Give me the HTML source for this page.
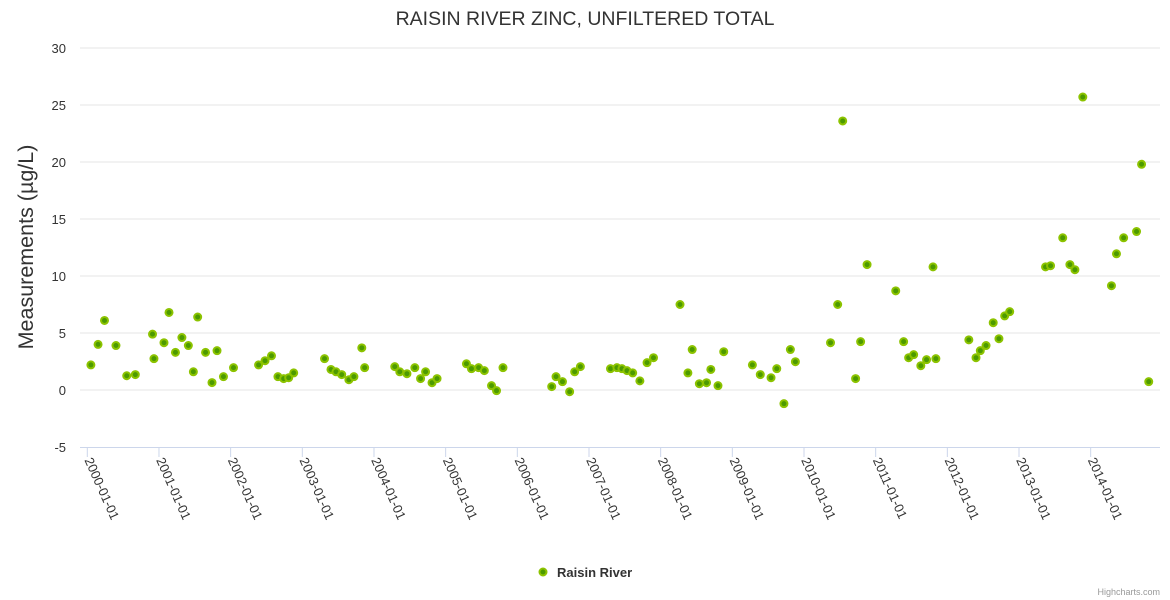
<!DOCTYPE html>
<html><head><meta charset="utf-8"><style>
html,body{margin:0;padding:0;background:#fff}
svg{display:block;font-family:"Liberation Sans",sans-serif}
</style></head><body>
<svg id="chart" width="1170" height="600">
<text x="585" y="25" text-anchor="middle" font-size="19.5" fill="#333">RAISIN RIVER ZINC, UNFILTERED TOTAL</text>
<text transform="translate(33,247) rotate(-90)" text-anchor="middle" font-size="21.5" fill="#333">Measurements (µg/L)</text>
<g id="grid"></g><g id="yticks"></g><g id="xticks"></g><g id="pts"></g>
<g>
<circle cx="543" cy="572" r="3.5" fill="#4c9a00" stroke="#8cc300" stroke-width="2"/>
<text x="557" y="577" font-size="13" font-weight="bold" fill="#333">Raisin River</text>
</g>
<text x="1160" y="595" text-anchor="end" font-size="9" fill="#999">Highcharts.com</text>
</svg>
<script>
const yTicks=[-5,0,5,10,15,20,25,30];
const xTickYears=[2000,2001,2002,2003,2004,2005,2006,2007,2008,2009,2010,2011,2012,2013,2014];
const dates=[0.05,0.15,0.24,0.40,0.55,0.67,0.91,0.93,1.07,1.14,1.23,1.32,1.41,1.48,1.54,1.65,1.74,1.81,1.90,2.04,2.39,2.48,2.57,2.66,2.74,2.81,2.88,3.31,3.40,3.47,3.55,3.65,3.72,3.83,3.87,4.29,4.36,4.46,4.57,4.65,4.72,4.81,4.88,5.29,5.36,5.46,5.54,5.64,5.71,5.80,6.48,6.54,6.63,6.73,6.80,6.88,7.30,7.39,7.46,7.53,7.61,7.71,7.81,7.90,8.27,8.38,8.44,8.54,8.64,8.70,8.80,8.88,9.28,9.39,9.54,9.62,9.72,9.81,9.88,10.37,10.47,10.54,10.72,10.79,10.88,11.28,11.39,11.46,11.53,11.63,11.71,11.80,11.84,12.30,12.40,12.46,12.54,12.64,12.72,12.80,12.87,13.37,13.44,13.61,13.71,13.78,13.89,14.29,14.36,14.46,14.64,14.71,14.81];
const values=[2.2,4.0,6.1,3.9,1.25,1.35,4.9,2.75,4.15,6.8,3.3,4.6,3.9,1.6,6.4,3.3,0.65,3.45,1.17,1.96,2.2,2.57,3.0,1.17,1.0,1.08,1.5,2.75,1.8,1.6,1.35,0.9,1.17,3.7,1.96,2.05,1.6,1.43,1.96,1.0,1.6,0.64,1.0,2.3,1.87,1.96,1.7,0.38,-0.06,1.96,0.3,1.17,0.73,-0.15,1.6,2.05,1.87,1.96,1.87,1.7,1.5,0.8,2.4,2.83,7.5,1.5,3.55,0.55,0.64,1.8,0.38,3.36,2.2,1.35,1.08,1.87,-1.2,3.55,2.48,4.15,7.5,23.6,1.0,4.24,11.0,8.7,4.24,2.83,3.1,2.13,2.66,10.8,2.75,4.4,2.83,3.45,3.9,5.9,4.5,6.5,6.87,10.8,10.9,13.35,11.0,10.55,25.7,9.15,11.95,13.35,13.9,19.8,0.73];
const NS="http://www.w3.org/2000/svg";
const L=80,R=1160;
function yS(v){return 390-v*11.4;}
function xS(t){return 87.3+t*71.67;}
function mk(tag,a,p){const e=document.createElementNS(NS,tag);for(const k in a)e.setAttribute(k,a[k]);p.appendChild(e);return e;}
const grid=document.getElementById('grid'),yt=document.getElementById('yticks'),xt=document.getElementById('xticks'),pts=document.getElementById('pts');
yTicks.forEach(v=>{
 const y=yS(v);
 if(v>-5){const g=mk('line',{x1:L,x2:R,y1:y,y2:y,stroke:'#e6e6e6'},grid);
 
 }
 const t=mk('text',{x:66,y:y+5,'text-anchor':'end','font-size':13,fill:'#333'},yt);t.textContent=v;
 
 
});
const ax=mk('line',{x1:L,x2:R,y1:447.5,y2:447.5,stroke:'#ccd6eb'},xt);


xTickYears.forEach(yr=>{
 const x=xS(yr-2000);
 const tk=mk('line',{x1:x,x2:x,y1:447,y2:457,stroke:'#ccd6eb'},xt);
 
 
 const t=mk('text',{transform:`translate(${x-3},${460}) rotate(66)`,'font-size':13,fill:'#333'},xt);
 t.textContent=yr+'-01-01';
 
 
});
dates.forEach((d,i)=>{
 const c=mk('circle',{cx:xS(d),cy:yS(values[i]),r:3.5,fill:'#4c9a00',stroke:'#8cc300','stroke-width':2},pts);
 
 
});
</script>
</body></html>
